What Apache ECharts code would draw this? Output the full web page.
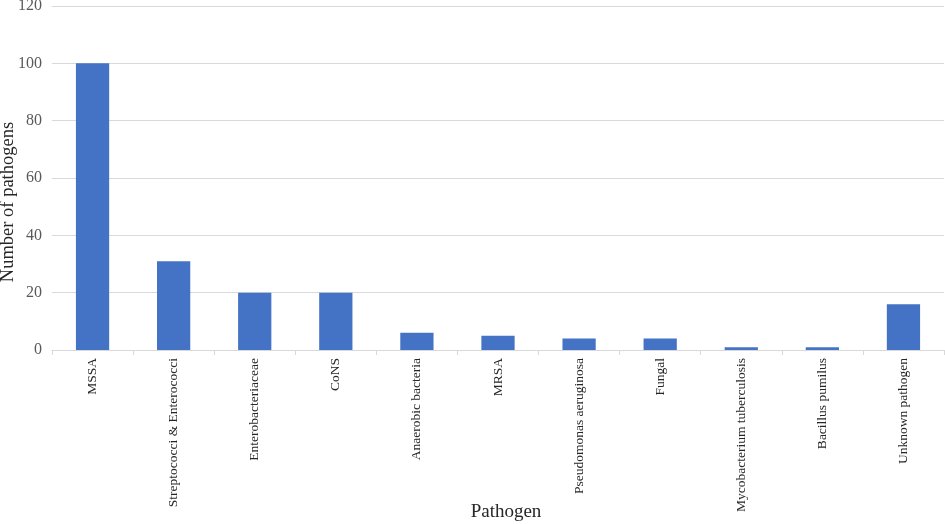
<!DOCTYPE html>
<html><head><meta charset="utf-8">
<script src="https://cdn.jsdelivr.net/npm/echarts@6/dist/echarts.min.js"></script>
<style>html,body{margin:0;padding:0;background:#fff}#c{width:945px;height:524px}</style>
</head><body><div id="c"></div>
<script>
var categories = ['MSSA','Streptococci & Enterococci','Enterobacteriaceae','CoNS','Anaerobic bacteria','MRSA','Pseudomonas aeruginosa','Fungal','Mycobacterium tuberculosis','Bacillus pumilus','Unknown pathogen'];
var values = [100,31,20,20,6,5,4,4,1,1,16];
var yTicks = [0,20,40,60,80,100,120];
var chart = echarts.init(document.getElementById('c'));
var font = '"Liberation Serif","Times New Roman",serif';
chart.setOption({
  animation:false,
  grid:{left:52,right:1,top:6,bottom:174,containLabel:false,outerBoundsMode:'none'},
  xAxis:{type:'category',data:categories,
    name:'Pathogen',nameLocation:'middle',nameGap:153,nameMoveOverlap:false,
    nameTextStyle:{fontFamily:font,fontSize:19,color:'#262626',padding:[0,0,0,16]},
    axisLine:{lineStyle:{color:'#d9d9d9'}},
    axisTick:{show:true,length:5,lineStyle:{color:'#d9d9d9'}},
    axisLabel:{rotate:90,fontFamily:font,fontSize:13.5,color:'#262626',margin:8,interval:0}},
  yAxis:{type:'value',min:yTicks[0],max:yTicks[yTicks.length-1],interval:20,
    name:'Number of pathogens',nameLocation:'middle',nameGap:34,nameMoveOverlap:false,
    nameTextStyle:{fontFamily:font,fontSize:18.5,color:'#262626',padding:[0,48,0,0]},
    axisLine:{show:false},axisTick:{show:false},
    axisLabel:{fontFamily:font,fontSize:16,color:'#595959',margin:10},
    splitLine:{lineStyle:{color:'#d9d9d9'}}},
  series:[{type:'bar',data:values,barWidth:'41%',itemStyle:{color:'#4472c4'}}]
});
</script></body></html>
